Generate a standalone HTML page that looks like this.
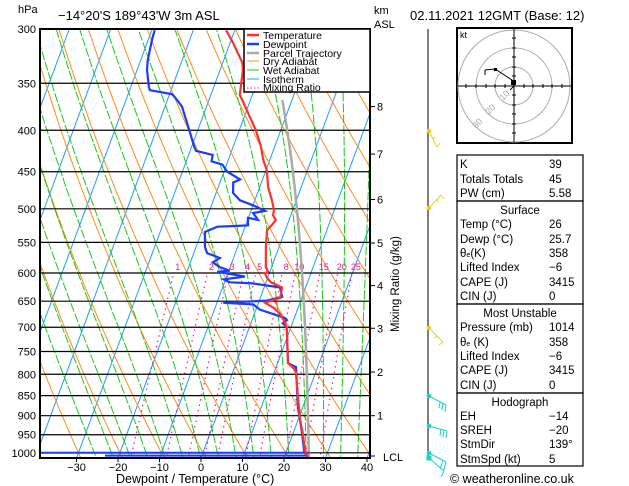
<!DOCTYPE html>
<html><head><meta charset="utf-8">
<style>
html,body{margin:0;padding:0;background:#fff;}
body{width:629px;height:486px;overflow:hidden;position:relative;font-family:"Liberation Sans","DejaVu Sans",sans-serif;}
svg{position:absolute;left:0;top:0;}
text{font-family:"Liberation Sans","DejaVu Sans",sans-serif;}
</style></head>
<body>
<svg id="chart" width="629" height="486" viewBox="0 0 629 486"></svg>
<script>
// ---- data ----
const pressureTicks = [300,350,400,450,500,550,600,650,700,750,800,850,900,950,1000];
const tempTicks = [-30,-20,-10,0,10,20,30,40];
const kmTicks = [1,2,3,4,5,6,7,8];
const kmPressures = [900,795,702,622,551,487,428,374];
const mixRatios = [1,2,3,4,5,8,10,15,20,25];
const tempP = [301,312,330,337,362,367,381,400,419,435,448,470,488,502,509,516,524,531,557,590,598,600,609,616,625,644,648,653,663,672,690,702,775,784,795,853,911,950,992,1012];
const tempT = [-32.1,-29.3,-25.3,-24.5,-23.0,-22.0,-19.4,-16.0,-13.3,-11.6,-9.8,-8.0,-5.9,-4.5,-4.3,-3.2,-3.7,-4.4,-3.2,-1.4,-0.4,-1.1,-0.1,1.2,4.3,4.8,3.3,1.6,4.2,5.9,8.1,9.1,12.5,14.0,15.2,17.9,20.5,22.5,24.3,25.7];
const dewP = [301,309,328,337,354,357,361,364,374,392,403,419,424,429,437,441,450,460,464,478,488,495,503,506,516,513,524,525,526,534,557,567,575,582,590,596,598,606,611,616,618,625,642,649,653,656,666,682,686,692,700,775,784,878,945,997,1012];
const dewT = [-49.3,-49.1,-48.3,-47.6,-45.6,-45.1,-39.4,-38.5,-35.9,-33.2,-31.6,-29.4,-28.6,-24.2,-23.9,-21.0,-19.2,-15.4,-16.8,-15.9,-13.6,-10.0,-6.6,-9.3,-7.5,-10.1,-9.4,-12.5,-16.7,-19.2,-17.9,-16.8,-13.3,-14.6,-12.5,-9.8,-12.7,-5.6,-10.4,-8.7,-3.1,3.8,5.2,1.9,-8.5,-1.1,1.0,7.8,8.4,7.7,9.0,12.5,14.8,18.8,22.1,24.3,25.7];
const parcelStartP = 1012;
const parcelStartT = 25.9;
const parcelTopP = 370;

// ---- axes ----
const X0=40,X1=370,Y0=29,Y1=458;
function yP(p){return Y0+352*Math.log(p/300);}
function xT(t,p){return 201+4.15*t+0.37*(Y1-yP(p));}
const NS='http://www.w3.org/2000/svg';
const svg=document.getElementById('chart');
function mk(tag,attrs,parent){const e=document.createElementNS(NS,tag);for(const k in attrs)e.setAttribute(k,attrs[k]);(parent||svg).appendChild(e);return e;}
function poly(pts){return pts.map(p=>p[0].toFixed(1)+','+p[1].toFixed(1)).join(' ');}

const defs=mk('defs',{});
const cp=mk('clipPath',{id:'plotclip'},defs);
mk('rect',{x:X0,y:Y0,width:X1-X0,height:Y1-Y0},cp);
const bg=mk('g',{'clip-path':'url(#plotclip)'});



// isotherms
for(let t=-120;t<=50;t+=10){
  const l=mk('line',{x1:xT(t,1100),y1:yP(1100),x2:xT(t,250),y2:yP(250),stroke:'#1e9bff','stroke-width':1},bg);
  
  
}
// dry adiabats
for(let th=-40;th<=220;th+=10){
  const pts=[];
  for(let p=1100;p>=280;p-=10){const T=(th+273.15)*Math.pow(p/1000,0.286)-273.15;pts.push([xT(T,p),yP(p)]);}
  const l=mk('polyline',{points:poly(pts),fill:'none',stroke:'#ff8c1a','stroke-width':1},bg);
  
  
}
// moist adiabat helper
function es(T){return 6.112*Math.exp(17.67*T/(T+243.5));}
function moist(T0,p0,pEnd,dp){
  const pts=[[T0,p0]];let T=T0+273.15,p=p0;
  while(p>pEnd){
    const e=es(T-273.15),rs=0.622*e/(p-e);
    const Rd=287,cpd=1004,Lv=2.5e6,eps=0.622;
    const dTdp=(1/p)*(Rd*T+Lv*rs)/(cpd+Lv*Lv*rs*eps/(Rd*T*T));
    T-=dTdp*dp;p-=dp;pts.push([T-273.15,p]);
  }
  return pts;
}
for(let tw=-20;tw<=40;tw+=4){
  const pts=moist(tw,1100,280,5).map(a=>[xT(a[0],a[1]),yP(a[1])]);
  const l=mk('polyline',{points:poly(pts),fill:'none',stroke:'#19c819','stroke-width':1,'stroke-dasharray':'9,2'},bg);
  
  
}
// mixing ratio
function tdFromW(w,p){const e=w*p/(622+w);const a=Math.log(e/6.112);return 243.5*a/(17.67-a);}
mixRatios.forEach(w=>{
  const pts=[];for(let p=1020;p>=600;p-=10)pts.push([xT(tdFromW(w,p),p),yP(p)]);
  const l=mk('polyline',{points:poly(pts),fill:'none',stroke:'#ff1493','stroke-width':1.2,'stroke-dasharray':'1.5,4'},bg);
  
  
  const tx=mk('text',{x:xT(tdFromW(w,600),600)+4,y:yP(600)-3,'font-size':9,fill:'#ff1493','text-anchor':'middle'});
  tx.textContent=w;
  
  
});
// isobars
pressureTicks.forEach(p=>{
  const l=mk('line',{x1:X0,x2:X1,y1:yP(p),y2:yP(p),stroke:'#000','stroke-width':1.2});
  
  
  const t=mk('text',{x:36,y:yP(p)+4,'font-size':11,'text-anchor':'end',fill:'#000'});
  t.textContent=p;
  
  
});
// parcel
{
  const pts=moist(parcelStartT,parcelStartP,parcelTopP,5).map(a=>[xT(a[0],a[1]),yP(a[1])]);
  const l=mk('polyline',{points:poly(pts),fill:'none',stroke:'#aaa','stroke-width':2.5,'clip-path':'url(#plotclip)'});
  
  
}
// surface dewpoint artifact lines
{
  const l1=mk('line',{x1:X0,x2:xT(dewT[dewT.length-1],1000),y1:yP(1000),y2:yP(1000),stroke:'#1a3cff','stroke-width':2});
  
  
  const l2=mk('line',{x1:105,x2:xT(dewT[dewT.length-1],1012),y1:yP(1008),y2:yP(1008),stroke:'#1a3cff','stroke-width':2});
  
  
}
// profiles
{
  const d=mk('polyline',{points:poly(dewP.map((p,i)=>[xT(dewT[i],p),yP(p)])),fill:'none',stroke:'#1a3cff','stroke-width':2.2,'clip-path':'url(#plotclip)'});
  
  
  const t=mk('polyline',{points:poly(tempP.map((p,i)=>[xT(tempT[i],p),yP(p)])),fill:'none',stroke:'#ff3030','stroke-width':2.2,'clip-path':'url(#plotclip)'});
  
  
}
// frame
{
  const f=mk('rect',{x:X0,y:Y0,width:X1-X0,height:Y1-Y0,fill:'none',stroke:'#000','stroke-width':2});
  
  
}
// x ticks
tempTicks.forEach(t=>{
  const x=201+4.15*t;
  mk('line',{x1:x,x2:x,y1:Y1,y2:Y1+4,stroke:'#000'});
  const tx=mk('text',{x:x,y:471,'font-size':11,'text-anchor':'middle'});
  tx.textContent=(t<0?'\u2212'+(-t):t);
  
  
});
// km ticks
kmTicks.forEach((k,i)=>{
  const y=yP(kmPressures[i]);
  mk('line',{x1:X1,x2:X1+5,y1:y,y2:y,stroke:'#000'});
  const tx=mk('text',{x:377,y:y+4,'font-size':11});
  tx.textContent=k;
  
  
});
mk('line',{x1:X1,x2:X1+5,y1:456,y2:456,stroke:'#000'});
</script>

<svg width="629" height="486" viewBox="0 0 629 486" style="pointer-events:none">
  <text x="18" y="13" font-size="11">hPa</text>
  <text x="58" y="20" font-size="13">−14°20'S  189°43'W  3m  ASL</text>
  <text x="374" y="14" font-size="11">km</text>
  <text x="374" y="28" font-size="11">ASL</text>
  <text x="383" y="461" font-size="11">LCL</text>
  <text x="116" y="483" font-size="12.5">Dewpoint / Temperature (°C)</text>
  <text transform="translate(399,332) rotate(-90)" font-size="11.5">Mixing Ratio (g/kg)</text>
  <text x="410" y="20" font-size="13">02.11.2021 12GMT (Base: 12)</text>

  <g>
    <rect x="244" y="29" width="126" height="63" fill="#fff" stroke="#000" stroke-width="1.5"/>
    <g font-size="10.5">
      <line x1="247" y1="35" x2="259" y2="35" stroke="#ff3030" stroke-width="2.5"/><text x="263" y="39">Temperature</text>
      <line x1="247" y1="44" x2="259" y2="44" stroke="#1a3cff" stroke-width="2.5"/><text x="263" y="48">Dewpoint</text>
      <line x1="247" y1="53" x2="259" y2="53" stroke="#aaa" stroke-width="2.5"/><text x="263" y="57">Parcel Trajectory</text>
      <line x1="247" y1="61" x2="259" y2="61" stroke="#ff8c1a"/><text x="263" y="65">Dry Adiabat</text>
      <line x1="247" y1="70" x2="259" y2="70" stroke="#19c819"/><text x="263" y="74">Wet Adiabat</text>
      <line x1="247" y1="79" x2="259" y2="79" stroke="#1e9bff"/><text x="263" y="83">Isotherm</text>
      <line x1="247" y1="88" x2="259" y2="88" stroke="#ff1493" stroke-dasharray="1.5,2"/><text x="263" y="91">Mixing Ratio</text>
    </g>
  </g>

  <g stroke-width="1">
    <line x1="428" y1="29" x2="428" y2="458" stroke="#000"/>
    <g stroke="#e6d21e" fill="#e6d21e">
      <circle cx="429" cy="131" r="1.8"/><line x1="429" y1="131" x2="437" y2="147"/><line x1="437" y1="147" x2="440" y2="143"/><line x1="433" y1="139" x2="435" y2="137"/>
      <circle cx="429" cy="208" r="1.8"/><line x1="429" y1="208" x2="441" y2="195"/><line x1="441" y1="195" x2="444" y2="199"/><line x1="436" y1="200" x2="439" y2="202"/>
      <circle cx="429" cy="328" r="1.8"/><line x1="429" y1="328" x2="443" y2="342"/><line x1="443" y1="342" x2="439" y2="345"/><line x1="437" y1="336" x2="434" y2="338"/>
    </g>
    <g stroke="#19d2c8" fill="#19d2c8">
      <circle cx="429" cy="396" r="1.8"/><line x1="429" y1="396" x2="446" y2="405"/><line x1="446" y1="405" x2="445" y2="412"/><line x1="443" y1="403" x2="442" y2="410"/><line x1="440" y1="402" x2="439" y2="408"/>
      <circle cx="429" cy="426" r="1.8"/><line x1="429" y1="426" x2="447" y2="431"/><line x1="447" y1="431" x2="446" y2="438"/><line x1="444" y1="430" x2="443" y2="437"/><line x1="441" y1="429" x2="440" y2="436"/>
      <circle cx="429" cy="453" r="1.8"/><line x1="429" y1="453" x2="446" y2="462"/><line x1="446" y1="462" x2="444" y2="470"/><line x1="443" y1="460" x2="440" y2="469"/>
      <rect x="427" y="456" width="4" height="4"/><line x1="429" y1="458" x2="444" y2="471"/><line x1="444" y1="471" x2="441" y2="477"/>
    </g>
  </g>

  <g>
    <rect x="457" y="28" width="115" height="115" fill="#fff" stroke="#000" stroke-width="2"/>
    <g fill="none" stroke="#aaa">
      <circle cx="514" cy="86" r="19"/><circle cx="514" cy="86" r="38"/><circle cx="514" cy="86" r="56"/>
    </g>
    <line x1="458" y1="86" x2="571" y2="86" stroke="#000"/>
    <line x1="514" y1="29" x2="514" y2="142" stroke="#000"/>
    <g stroke="#000">
      <line x1="466" y1="84" x2="466" y2="88"/><line x1="476" y1="84" x2="476" y2="88"/><line x1="486" y1="84" x2="486" y2="88"/><line x1="495" y1="84" x2="495" y2="88"/><line x1="505" y1="84" x2="505" y2="88"/><line x1="524" y1="84" x2="524" y2="88"/><line x1="533" y1="84" x2="533" y2="88"/><line x1="543" y1="84" x2="543" y2="88"/><line x1="552" y1="84" x2="552" y2="88"/><line x1="562" y1="84" x2="562" y2="88"/>
      <line x1="512" y1="38" x2="516" y2="38"/><line x1="512" y1="48" x2="516" y2="48"/><line x1="512" y1="57" x2="516" y2="57"/><line x1="512" y1="67" x2="516" y2="67"/><line x1="512" y1="76" x2="516" y2="76"/><line x1="512" y1="95" x2="516" y2="95"/><line x1="512" y1="105" x2="516" y2="105"/><line x1="512" y1="114" x2="516" y2="114"/><line x1="512" y1="124" x2="516" y2="124"/><line x1="512" y1="133" x2="516" y2="133"/>
    </g>
    <text x="460" y="38" font-size="9">kt</text>
    <g fill="#aaa" font-size="9">
      <text transform="translate(503,101) rotate(-45)">10</text>
      <text transform="translate(489,115) rotate(-45)">20</text>
      <text transform="translate(476,129) rotate(-45)">30</text>
    </g>
    <polyline points="485,70 495,69 512,80 514,86 510,90" fill="none" stroke="#000"/>
    <line x1="485" y1="70" x2="485" y2="75" stroke="#000"/>
    <rect x="494" y="68" width="3" height="3" fill="#000"/>
    <rect x="511" y="80" width="5" height="5" fill="#000"/>
  </g>

  <g font-size="11.5">
    <rect x="457" y="155" width="126" height="46" fill="none" stroke="#000" stroke-width="1.2"/>
    <text x="460" y="168">K</text><text x="549" y="168">39</text>
    <text x="460" y="183">Totals Totals</text><text x="549" y="183">45</text>
    <text x="460" y="197">PW (cm)</text><text x="549" y="197">5.58</text>
    <rect x="457" y="201" width="126" height="103" fill="none" stroke="#000" stroke-width="1.2"/>
    <text x="520" y="214" text-anchor="middle">Surface</text>
    <text x="460" y="228">Temp (°C)</text><text x="549" y="228">26</text>
    <text x="460" y="243">Dewp (°C)</text><text x="549" y="243">25.7</text>
    <text x="460" y="257">θ<tspan font-size="7">e</tspan>(K)</text><text x="549" y="257">358</text>
    <text x="460" y="271">Lifted Index</text><text x="549" y="271">−6</text>
    <text x="460" y="286">CAPE (J)</text><text x="549" y="286">3415</text>
    <text x="460" y="300">CIN (J)</text><text x="549" y="300">0</text>
    <rect x="457" y="304" width="126" height="89" fill="none" stroke="#000" stroke-width="1.2"/>
    <text x="520" y="317" text-anchor="middle">Most Unstable</text>
    <text x="460" y="331">Pressure (mb)</text><text x="549" y="331">1014</text>
    <text x="460" y="346">θ<tspan font-size="7">e</tspan> (K)</text><text x="549" y="346">358</text>
    <text x="460" y="360">Lifted Index</text><text x="549" y="360">−6</text>
    <text x="460" y="374">CAPE (J)</text><text x="549" y="374">3415</text>
    <text x="460" y="389">CIN (J)</text><text x="549" y="389">0</text>
    <rect x="457" y="393" width="126" height="73" fill="none" stroke="#000" stroke-width="1.2"/>
    <text x="520" y="406" text-anchor="middle">Hodograph</text>
    <text x="460" y="420">EH</text><text x="549" y="420">−14</text>
    <text x="460" y="434">SREH</text><text x="549" y="434">−20</text>
    <text x="460" y="448">StmDir</text><text x="549" y="448">139°</text>
    <text x="460" y="463">StmSpd (kt)</text><text x="549" y="463">5</text>
  </g>
  <text x="450" y="483" font-size="12.5">© weatheronline.co.uk</text>
</svg>
</body></html>
